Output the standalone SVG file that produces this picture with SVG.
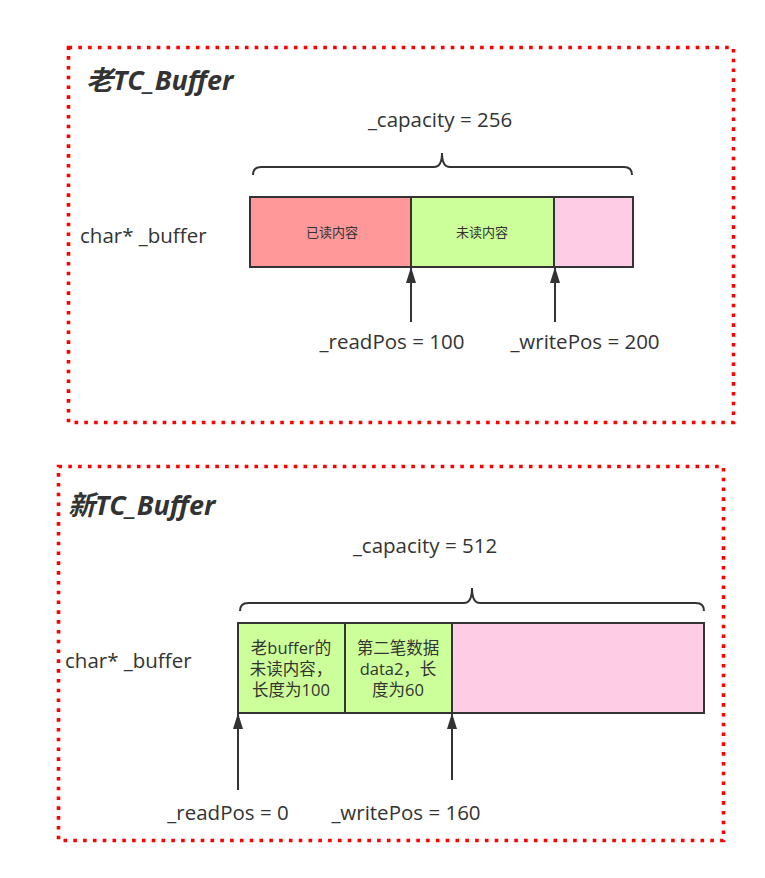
<svg xmlns="http://www.w3.org/2000/svg" width="765" height="878" viewBox="0 0 765 878">
<style>
.frame{fill:none;stroke:#ff0000;stroke-width:3.6;stroke-dasharray:3.6 6.2}
.cell{stroke:#333;stroke-width:2}
.t{font-family:"Open Sans","Noto Sans CJK SC",sans-serif;fill:#333}
.title{font-family:"Open Sans","Noto Sans CJK SC",sans-serif;font-size:27px;font-weight:bold;font-style:italic;fill:#333}
.brace{fill:none;stroke:#333;stroke-width:2}
.conn{stroke:#333;stroke-width:2;fill:none;marker-end:url(#ah)}
</style>
<defs>
<marker id="ah" viewBox="0 0 16 10" refX="15" refY="5" markerWidth="8" markerHeight="5" orient="auto" markerUnits="strokeWidth">
<path d="M0,0 L16,5 L0,10 z" fill="#333"/>
</marker>
</defs>
<rect width="765" height="878" fill="#fff"/>

<g id="old">
<rect class="frame" x="68.5" y="47.5" width="665" height="375"/>
<text class="title" x="86" y="90">老TC_Buffer</text>
<text class="t" x="440" y="127" font-size="20.5" text-anchor="middle">_capacity = 256</text>
<path class="brace" d="M253,175 Q253,167 261,167 L434,167 Q442,167 442,153 Q442,167 450,167 L624,167 Q632,167 632,175"/>
<text class="t" x="80" y="243" font-size="20.5">char* _buffer</text>
</g>
<g id="old-read">
<rect class="cell" x="250" y="197" width="161" height="70" fill="#ff9999"/>
<text class="t" x="332" y="237" font-size="13" text-anchor="middle">已读内容</text>
</g>
<g id="old-unread">
<rect class="cell" x="411" y="197" width="143" height="70" fill="#ccff99"/>
<text class="t" x="482" y="237" font-size="13" text-anchor="middle">未读内容</text>
</g>
<g id="old-free">
<rect class="cell" x="554" y="197" width="79" height="70" fill="#ffcce6"/>
</g>
<g id="old-readpos">
<text class="t" x="392" y="349" font-size="20.5" text-anchor="middle">_readPos = 100</text>
</g>
<g id="old-writepos">
<text class="t" x="585" y="349" font-size="20.5" text-anchor="middle">_writePos = 200</text>
</g>

<g id="new">
<rect class="frame" x="58.5" y="466.5" width="665" height="374"/>
<text class="title" x="68" y="515">新TC_Buffer</text>
<text class="t" x="425" y="553" font-size="20.5" text-anchor="middle">_capacity = 512</text>
<path class="brace" d="M240,611 Q240,603 248,603 L464,603 Q472,603 472,588 Q472,603 480,603 L696,603 Q704,603 704,611"/>
<text class="t" x="65" y="668" font-size="20.5">char* _buffer</text>
</g>
<g id="new-old">
<rect class="cell" x="238" y="623" width="107" height="90" fill="#ccff99"/>
<text class="t" font-size="16.5" text-anchor="middle"><tspan x="291" y="654">老buffer的</tspan><tspan x="291" y="675">未读内容，</tspan><tspan x="291" y="696">长度为100</tspan></text>
</g>
<g id="new-data2">
<rect class="cell" x="345" y="623" width="107" height="90" fill="#ccff99"/>
<text class="t" font-size="16.5" text-anchor="middle"><tspan x="398" y="654">第二笔数据</tspan><tspan x="398" y="675">data2，长</tspan><tspan x="398" y="696">度为60</tspan></text>
</g>
<g id="new-free">
<rect class="cell" x="452" y="623" width="252" height="90" fill="#ffcce6"/>
</g>
<g id="new-readpos">
<text class="t" x="228" y="820" font-size="20.5" text-anchor="middle">_readPos = 0</text>
</g>
<g id="new-writepos">
<text class="t" x="406" y="820" font-size="20.5" text-anchor="middle">_writePos = 160</text>
</g>

<g id="connectors">
<line class="conn" x1="411" y1="322" x2="411" y2="268"/>
<line class="conn" x1="555" y1="322" x2="555" y2="268"/>
<line class="conn" x1="238" y1="790" x2="238" y2="714"/>
<line class="conn" x1="452" y1="780" x2="452" y2="714"/>
</g>
</svg>
